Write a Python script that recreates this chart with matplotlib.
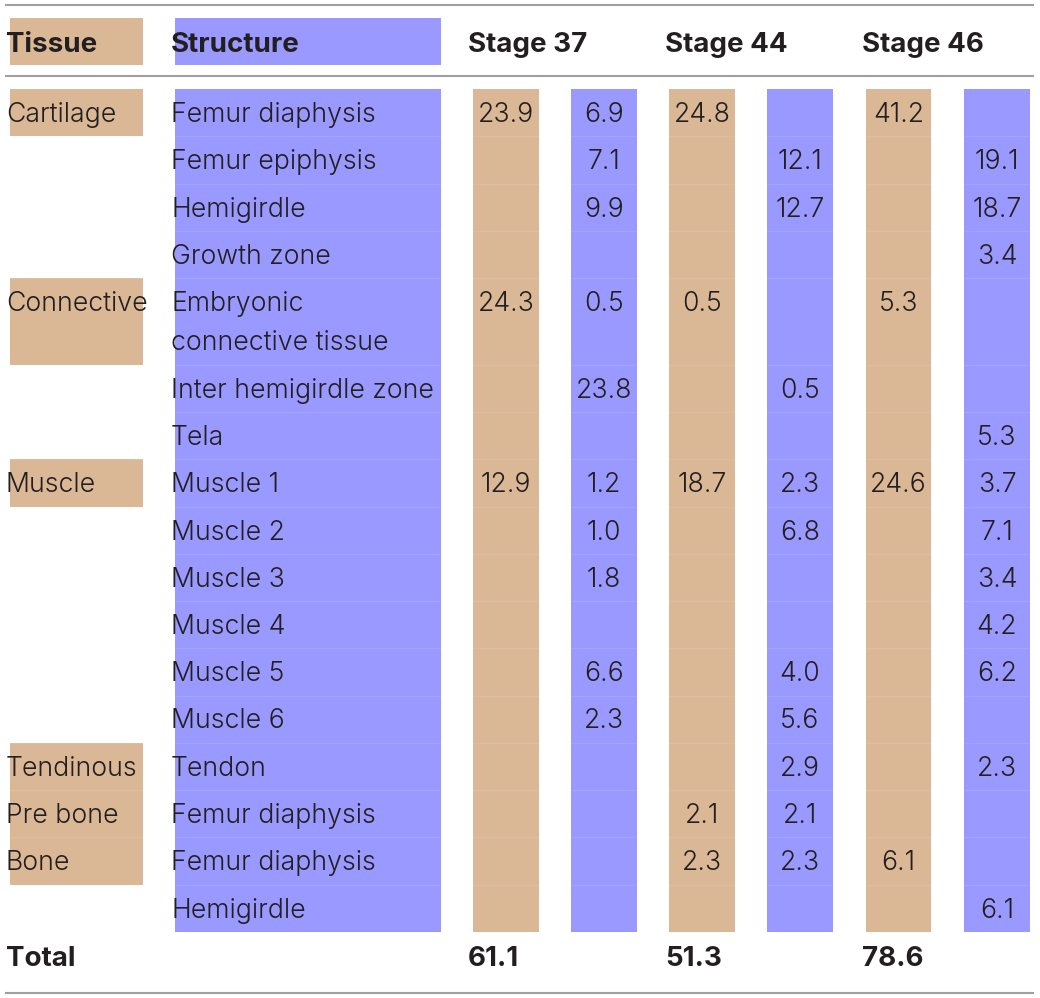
import matplotlib.pyplot as plt
from matplotlib.patches import Rectangle

# table content
structures = ["Femur diaphysis", "Femur epiphysis", "Hemigirdle", "Growth zone",
              "Embryonic\nconnective tissue", "Inter hemigirdle zone", "Tela",
              "Muscle 1", "Muscle 2", "Muscle 3", "Muscle 4", "Muscle 5", "Muscle 6",
              "Tendon", "Femur diaphysis", "Femur diaphysis", "Hemigirdle"]
tissues = ["Cartilage", "", "", "", "Connective", "", "", "Muscle", "", "", "", "", "",
           "Tendinous", "Pre bone", "Bone", ""]
stages = ["Stage 37", "Stage 44", "Stage 46"]

s37_tissue = ["23.9", "", "", "", "24.3", "", "", "12.9", "", "", "", "", "", "", "", "", ""]
s37_struct = ["6.9", "7.1", "9.9", "", "0.5", "23.8", "", "1.2", "1.0", "1.8", "", "6.6", "2.3",
              "", "", "", ""]
s44_tissue = ["24.8", "", "", "", "0.5", "", "", "18.7", "", "", "", "", "", "", "2.1", "2.3", ""]
s44_struct = ["", "12.1", "12.7", "", "", "0.5", "", "2.3", "6.8", "", "", "4.0", "5.6",
              "2.9", "2.1", "2.3", ""]
s46_tissue = ["41.2", "", "", "", "5.3", "", "", "24.6", "", "", "", "", "", "", "", "6.1", ""]
s46_struct = ["", "19.1", "18.7", "3.4", "", "", "5.3", "3.7", "7.1", "3.4", "4.2", "6.2", "",
              "2.3", "", "", "6.1"]
totals = ["61.1", "51.3", "78.6"]

tissue_cols = [s37_tissue, s44_tissue, s46_tissue]
struct_cols = [s37_struct, s44_struct, s46_struct]

TAN = "#dab896"
BLUE = "#9999ff"
INK = "#231f20"
FONT = "Inter"
FS = 19.2
FS_BOLD = 20

fig = plt.figure(figsize=(10.4, 9.98), dpi=100)
ax = fig.add_axes([0, 0, 1, 1])
ax.set_xlim(0, 1040)
ax.set_ylim(998, 0)
ax.axis("off")

# layout
body_top = 89
row_h = 47.25
line_h = 39.5
tissue_x = (10, 143)
struct_x = (175, 441)
tan_x = [(473, 539), (669, 735), (866, 931)]
blue_x = [(571, 637), (767, 833), (964, 1030)]
stage_x = [468, 665, 862]

# row boundaries
tops = []
y = body_top
for s in structures:
    tops.append(y)
    y += row_h + line_h * s.count("\n")
body_bottom = y


def box(x0, x1, y0, y1, color):
    ax.add_patch(Rectangle((x0, y0), x1 - x0, y1 - y0, facecolor=color, edgecolor="none", zorder=1))


def txt(x, yb, s, ha="left", bold=False):
    ax.text(x, yb, s, ha=ha, va="baseline", fontsize=FS_BOLD if bold else FS, family=FONT,
            color=INK, fontweight=700 if bold else 300, zorder=3)


# rules
for yy in (5, 76, 993):
    ax.plot([6, 1033], [yy, yy], color="#a0a0a0", lw=1.5, zorder=2)

# header
box(*tissue_x, 18, 65, TAN)
box(*struct_x, 18, 65, BLUE)
txt(6, 52, "Tissue", bold=True)
txt(171, 52, "Structure", bold=True)
for sx, st in zip(stage_x, stages):
    txt(sx, 52, st, bold=True)

# coloured columns
box(*struct_x, body_top, body_bottom, BLUE)
for (a, b) in tan_x:
    box(a, b, body_top, body_bottom, TAN)
for (a, b) in blue_x:
    box(a, b, body_top, body_bottom, BLUE)

# tissue label boxes
for i, t in enumerate(tissues):
    if t:
        y1 = tops[i + 1] if i + 1 < len(tops) else body_bottom
        box(*tissue_x, tops[i], y1, TAN)

# faint row separators
for yy in tops[1:]:
    for (a, b) in [struct_x] + tan_x + blue_x:
        ax.plot([a, b], [yy, yy], color="white", lw=1, alpha=0.1, zorder=2)
    ax.plot(list(tissue_x), [yy, yy], color="white", lw=1, alpha=0.1, zorder=2)

# body text
for i, s in enumerate(structures):
    yb = tops[i] + 33
    if tissues[i]:
        txt(6, yb, tissues[i])
    for k, line in enumerate(s.split("\n")):
        txt(171, yb + k * line_h, line)
    for c in range(3):
        if tissue_cols[c][i]:
            txt(sum(tan_x[c]) / 2, yb, tissue_cols[c][i], ha="center")
        if struct_cols[c][i]:
            txt(sum(blue_x[c]) / 2, yb, struct_cols[c][i], ha="center")

# total row
yb = body_bottom + 34
txt(6, yb, "Total", bold=True)
for sx, tv in zip(stage_x, totals):
    txt(sx, yb, tv, bold=True)

fig.savefig("out.png", dpi=100)
